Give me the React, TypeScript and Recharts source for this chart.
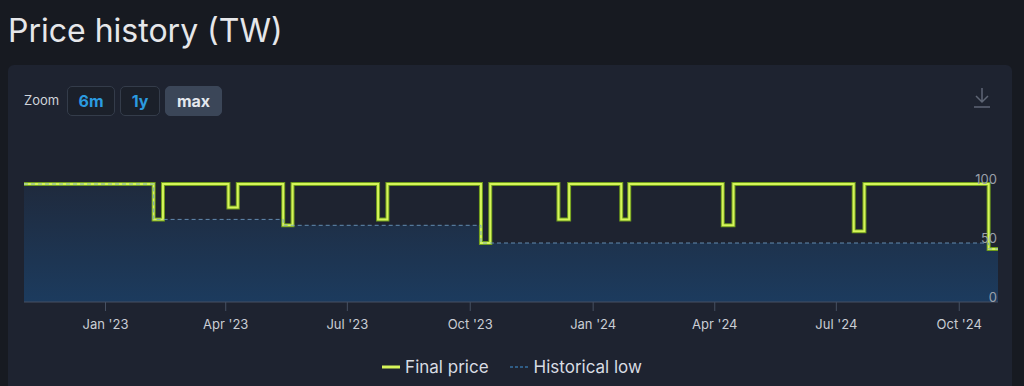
import { ComposedChart, Line, Area, XAxis, YAxis } from "recharts";

const changeDates = [
  "2022-11-01", "2023-02-06", "2023-02-13", "2023-04-03", "2023-04-10",
  "2023-05-14", "2023-05-21", "2023-07-24", "2023-07-31", "2023-10-09",
  "2023-10-16", "2023-12-06", "2023-12-14", "2024-01-22", "2024-01-28",
  "2024-04-07", "2024-04-15", "2024-07-14", "2024-07-22", "2024-10-23",
  "2024-10-30",
];
const finalPrice = [100, 70, 100, 80, 100, 65, 100, 70, 100, 50, 100, 70, 100, 70, 100, 65, 100, 60, 100, 45, 45];
const historicalLow = [100, 70, 70, 70, 70, 65, 65, 65, 65, 50, 50, 50, 50, 50, 50, 50, 50, 50, 50, 45, 45];

const tickDates = ["2023-01-01", "2023-04-01", "2023-07-01", "2023-10-01", "2024-01-01", "2024-04-01", "2024-07-01", "2024-10-01"];
const tickLabels = ["Jan '23", "Apr '23", "Jul '23", "Oct '23", "Jan '24", "Apr '24", "Jul '24", "Oct '24"];
const yTicks = [0, 50, 100];

const toTs = (d: string) => new Date(d + "T00:00:00Z").getTime();

const data = changeDates.map((d, i) => ({
  t: toTs(d),
  final: finalPrice[i],
  low: historicalLow[i],
}));
const xTicks = tickDates.map(toTs);

const font = "Inter, 'Noto Sans', sans-serif";

function ZoomButton({ label, left, width, active }: { label: string; left: number; width: number; active?: boolean }) {
  return (
    <div
      style={{
        position: "absolute",
        left,
        top: 86,
        width,
        height: 30,
        boxSizing: "border-box",
        borderRadius: 5,
        border: active ? "1px solid #3b4658" : "1px solid #343c4a",
        background: active ? "#3b4658" : "#1b202a",
        color: active ? "#e4e8ee" : "#2b9be0",
        fontWeight: 700,
        fontSize: 16,
        display: "flex",
        alignItems: "center",
        justifyContent: "center",
      }}
    >
      {label}
    </div>
  );
}

export default function App() {
  return (
    <div
      style={{
        position: "absolute",
        left: 0,
        top: 0,
        width: 1024,
        height: 386,
        background: "#171a21",
        fontFamily: font,
        overflow: "hidden",
      }}
    >
      <div style={{ position: "absolute", left: 8, top: 13, fontSize: 32, lineHeight: "36px", color: "#e6e7ea" }}>
        Price history (TW)
      </div>
      <div
        style={{
          position: "absolute",
          left: 8,
          top: 65,
          width: 1004,
          height: 340,
          background: "#1e2330",
          borderRadius: 6,
        }}
      />
      <div style={{ position: "absolute", left: 24, top: 92, fontSize: 13, color: "#d0d4da" }}>Zoom</div>
      <ZoomButton label="6m" left={67} width={48} />
      <ZoomButton label="1y" left={120} width={40} />
      <ZoomButton label="max" left={165} width={57} active />
      <svg style={{ position: "absolute", left: 972, top: 86 }} width={20} height={24}>
        <path d="M10 2 V16 M4 10 L10 16 L16 10 M2 21 H18" stroke="#5f6675" strokeWidth={1.5} fill="none" />
      </svg>

      <div style={{ position: "absolute", left: 0, top: 150 }}>
        <ComposedChart width={1024} height={200} data={data} margin={{ top: 34, right: 26, left: 24, bottom: 18 }}>
          <defs>
            <linearGradient id="lowFill" x1="0" y1="0" x2="0" y2="1">
              <stop offset="0%" stopColor="#1f2a3d" />
              <stop offset="100%" stopColor="#1c3b5e" />
            </linearGradient>
          </defs>
          <XAxis
            dataKey="t"
            type="number"
            scale="time"
            domain={[toTs(changeDates[0]), toTs(changeDates[changeDates.length - 1])]}
            ticks={xTicks}
            tickFormatter={(v: number) => tickLabels[xTicks.indexOf(v)]}
            height={30}
            tickSize={9}
            tickMargin={9}
            stroke="#465062"
            tick={{ fill: "#c9cdd4", fontSize: 13, fontFamily: font }}
          />
          <YAxis
            orientation="right"
            mirror
            domain={[0, 100]}
            ticks={yTicks}
            axisLine={false}
            tickLine={false}
            tickSize={0}
            tickMargin={1}
            tick={{ fill: "#9aa0aa", fontSize: 13, fontFamily: font, dy: -5 }}
          />
          <Area
            type="stepAfter"
            dataKey="low"
            stroke="none"
            fill="url(#lowFill)"
            fillOpacity={1}
            isAnimationActive={false}
            dot={false}
            activeDot={false}
            legendType="none"
          />
          <Line
            type="stepAfter"
            dataKey="final"
            stroke="#6f9c1c"
            strokeWidth={4}
            dot={false}
            activeDot={false}
            legendType="none"
            isAnimationActive={false}
          />
          <Line
            type="stepAfter"
            dataKey="final"
            stroke="#d6f55a"
            strokeWidth={2}
            dot={false}
            activeDot={false}
            isAnimationActive={false}
          />
          <Line
            type="stepAfter"
            dataKey="low"
            stroke="#6e9cc4"
            strokeOpacity={0.85}
            strokeWidth={1}
            strokeDasharray="4 3"
            dot={false}
            activeDot={false}
            isAnimationActive={false}
          />
        </ComposedChart>
      </div>

      <div
        style={{
          position: "absolute",
          left: 0,
          top: 357,
          width: 1024,
          display: "flex",
          justifyContent: "center",
          alignItems: "center",
          fontSize: 17,
          color: "#d8dce3",
        }}
      >
        <svg width={18} height={4} style={{ marginRight: 5 }}>
          <line x1={0} y1={2} x2={18} y2={2} stroke="#d6f55a" strokeWidth={3} />
        </svg>
        <span style={{ marginRight: 21 }}>Final price</span>
        <svg width={18} height={4} style={{ marginRight: 6 }}>
          <line x1={0} y1={2} x2={18} y2={2} stroke="#2f5c85" strokeWidth={2} strokeDasharray="3 2" />
        </svg>
        <span>Historical low</span>
      </div>
    </div>
  );
}
